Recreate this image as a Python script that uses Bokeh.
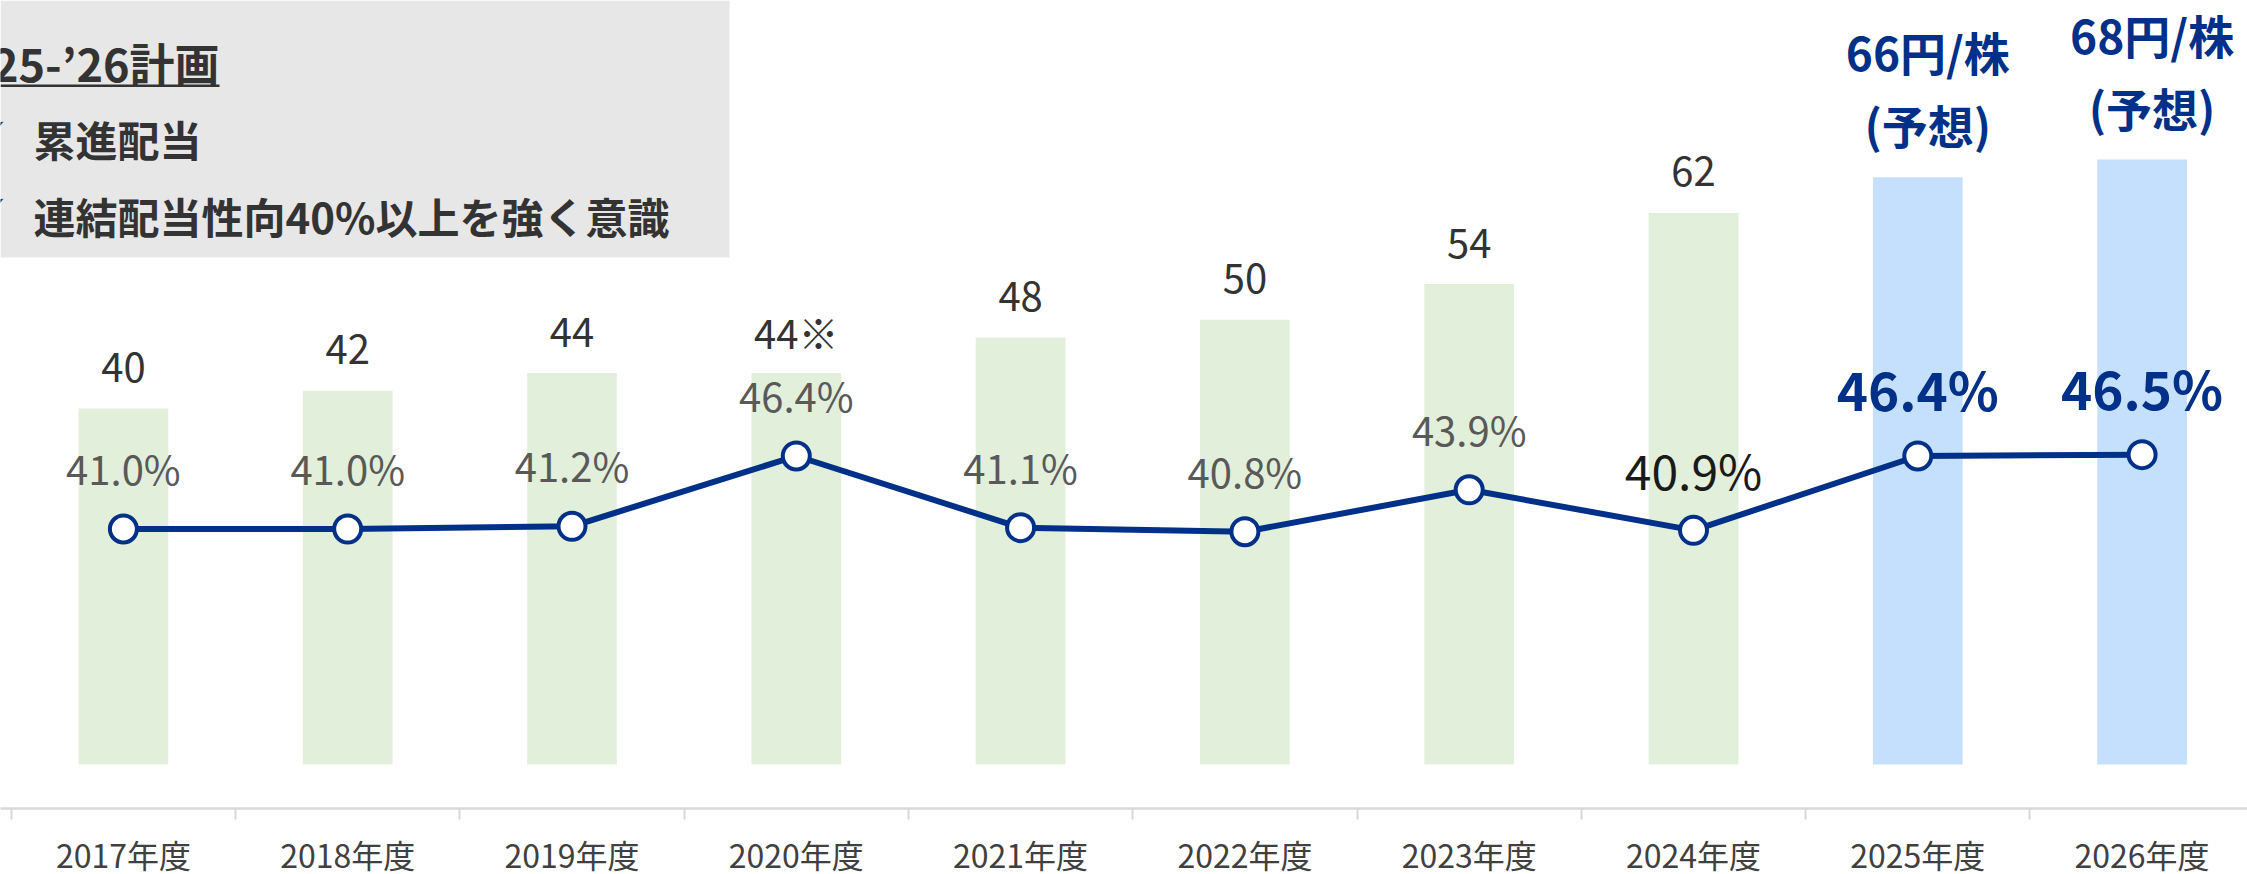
from bokeh.plotting import figure
from bokeh.models import Range1d, FixedTicker, BoxAnnotation, Label, ColumnDataSource
from bokeh.embed import file_html
from bokeh.resources import INLINE
from bokeh.core.properties import value

# ---------------- data ----------------
years = ["2017年度", "2018年度", "2019年度", "2020年度", "2021年度",
         "2022年度", "2023年度", "2024年度", "2025年度", "2026年度"]
dividends = [40, 42, 44, 44, 48, 50, 54, 62, 66, 68]
dividend_labels = ["40", "42", "44", "44※", "48", "50", "54", "62", "66円/株", "68円/株"]
payout_ratio = [41.0, 41.0, 41.2, 46.4, 41.1, 40.8, 43.9, 40.9, 46.4, 46.5]
is_forecast = [False, False, False, False, False, False, False, False, True, True]
forecast_note = "(予想)"
box_title = "’25-’26計画"
box_items = ["累進配当", "連結配当性向40%以上を強く意識"]
check_mark = "✓"

# ---------------- styles / layout ----------------
FONT = "Noto Sans CJK JP"
NAVY = "#003087"
GREEN = "#e2efda"
BLUE = "#c4e0fc"
DARK = "#333333"
GRAY = "#595959"

PAGE_X0, PAGE_Y0 = 0, 0
FRAME_W, FRAME_H = 2247, 808
CAT_PX = 224.3                   # pixels per category
FIRST_BOUND = 10.75              # page x of first category boundary
X_START = (PAGE_X0 - FIRST_BOUND) / CAT_PX
X_END = X_START + FRAME_W / CAT_PX

BASE_Y = 764.0                   # page y of dividend 0
YEN_PX = 8.897
Y_START = -(PAGE_Y0 + FRAME_H - BASE_Y) / YEN_PX
Y_END = (BASE_Y - PAGE_Y0) / YEN_PX

R_REF, R_REF_Y, R_PX = 41.0, 528.5, 13.52
R_START = R_REF - (PAGE_Y0 + FRAME_H - R_REF_Y) / R_PX
R_END = R_REF + (R_REF_Y - PAGE_Y0) / R_PX


def xd(page_x):
    return X_START + (page_x - PAGE_X0) / CAT_PX


def yd(page_y):
    return (BASE_Y - page_y) / YEN_PX


n = len(years)
centers = [i + 0.5 for i in range(n)]
bounds = [float(i) for i in range(n + 1)]

p = figure(frame_width=FRAME_W, frame_height=FRAME_H,
           x_range=Range1d(X_START, X_END), y_range=Range1d(Y_START, Y_END),
           y_axis_location=None, toolbar_location=None, output_backend="svg",
           min_border=0, min_border_left=0, min_border_right=0, min_border_top=0)
p.extra_y_ranges = {"ratio": Range1d(R_START, R_END)}
p.xgrid.visible = False
p.ygrid.visible = False
p.outline_line_color = None
p.background_fill_color = "white"
p.border_fill_color = "white"

# x axis
ax = p.xaxis[0]
ax.ticker = FixedTicker(ticks=centers, minor_ticks=bounds)
ax.major_label_overrides = {c: y for c, y in zip(centers, years)}
ax.axis_line_color = "#d9d9d9"
ax.axis_line_width = 2.5
ax.major_tick_line_color = None
ax.major_tick_out = 0
ax.major_tick_in = 0
ax.minor_tick_line_color = "#d9d9d9"
ax.minor_tick_line_width = 2
ax.minor_tick_out = 11
ax.minor_tick_in = 0
ax.major_label_text_font = FONT
ax.major_label_text_font_size = "32px"
ax.major_label_text_color = "#404040"
ax.major_label_standoff = 11

# header box
p.add_layout(BoxAnnotation(left=X_START, right=xd(729), top=Y_END, bottom=yd(257),
                           fill_color="#e7e7e7", fill_alpha=1.0, line_color=None,
                           level="underlay"))
p.add_layout(BoxAnnotation(left=X_START, right=xd(219), top=yd(84), bottom=yd(86.5),
                           fill_color=DARK, fill_alpha=1.0, line_color=None))
p.add_layout(Label(x=xd(219), y=yd(62), text=box_title, text_align="right",
                   text_baseline="middle", text_font=FONT, text_font_size="45px",
                   text_font_style="bold", text_color=DARK))
for item, py in zip(box_items, [138, 215]):
    p.add_layout(Label(x=xd(33), y=yd(py), text=item, text_align="left",
                       text_baseline="middle", text_font=FONT, text_font_size="42px",
                       text_font_style="bold", text_color=DARK))
    p.add_layout(Label(x=xd(7), y=yd(py - 10), text=check_mark, text_align="right",
                       text_baseline="middle", text_font="DejaVu Sans", text_font_size="26px",
                       text_color=DARK))

# bars
bar_src = ColumnDataSource(dict(
    x=centers, top=dividends,
    color=[BLUE if f else GREEN for f in is_forecast]))
p.vbar(x="x", top="top", bottom=0, width=0.40, fill_color="color",
       line_color=None, source=bar_src)

# payout ratio line
p.line(centers, payout_ratio, y_range_name="ratio", line_color=NAVY, line_width=6)
p.scatter(centers, payout_ratio, y_range_name="ratio", size=27, fill_color="white",
          line_color=NAVY, line_width=4)

act = [i for i in range(n) if not is_forecast[i]]
fc = [i for i in range(n) if is_forecast[i]]
latest = act[-1]
past = act[:-1]

# dividend labels (actual)
p.text([centers[i] for i in act], [dividends[i] for i in act],
       text=[dividend_labels[i] for i in act], y_offset=-41,
       text_align="center", text_baseline="middle", text_font=value(FONT),
       text_font_size=value("40px"), text_color=DARK)
# dividend labels (forecast)
p.text([centers[i] for i in fc], [dividends[i] for i in fc],
       text=[dividend_labels[i] for i in fc], x_offset=10, y_offset=-126,
       text_align="center", text_baseline="middle", text_font=value(FONT),
       text_font_size=value("46px"), text_font_style="bold", text_color=NAVY)
p.text([centers[i] for i in fc], [dividends[i] for i in fc],
       text=[forecast_note for i in fc], x_offset=10, y_offset=-53,
       text_align="center", text_baseline="middle", text_font=value(FONT),
       text_font_size=value("46px"), text_font_style="bold", text_color=NAVY)

# payout labels
p.text([centers[i] for i in past], [payout_ratio[i] for i in past],
       text=[f"{payout_ratio[i]:.1f}%" for i in past], y_offset=-61,
       y_range_name="ratio", text_align="center", text_baseline="middle",
       text_font=value(FONT), text_font_size=value("40px"), text_color=GRAY)
p.text([centers[latest]], [payout_ratio[latest]],
       text=[f"{payout_ratio[latest]:.1f}%"], y_offset=-61,
       y_range_name="ratio", text_align="center", text_baseline="middle",
       text_font=value(FONT), text_font_size=value("48px"), text_color="#1a1a1a")
p.text([centers[i] for i in fc], [payout_ratio[i] for i in fc],
       text=[f"{payout_ratio[i]:.1f}%" for i in fc], y_offset=-68,
       y_range_name="ratio", text_align="center", text_baseline="middle",
       text_font=value(FONT), text_font_size=value("53px"), text_font_style="bold",
       text_color=NAVY)

open("out.html", "w").write(file_html(p, INLINE))
